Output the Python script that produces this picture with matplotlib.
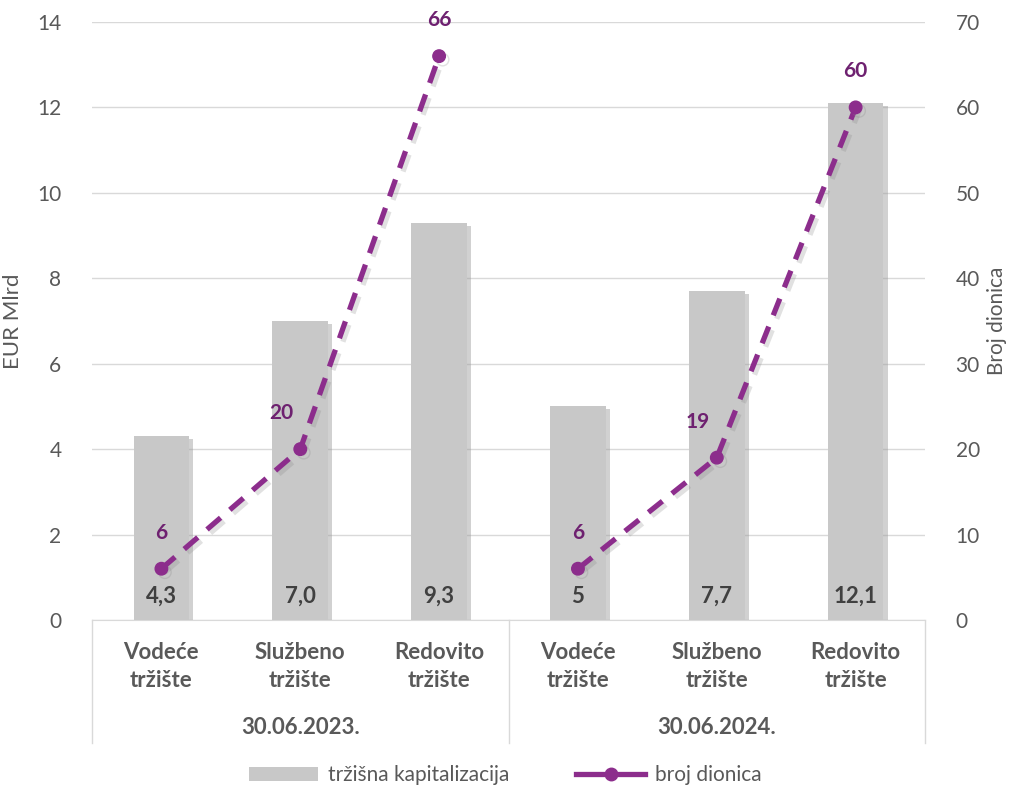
import numpy as np
import matplotlib.pyplot as plt
import matplotlib.patheffects as pe
from matplotlib.lines import Line2D
from matplotlib.patches import Patch

# Dados
kategorije = ["Vodeće\ntržište", "Službeno\ntržište", "Redovito\ntržište",
              "Vodeće\ntržište", "Službeno\ntržište", "Redovito\ntržište"]
grupe = ["30.06.2023.", "30.06.2024."]
kapitalizacija = [4.3, 7.0, 9.3, 5.0, 7.7, 12.1]
kap_oznake = ["4,3", "7,0", "9,3", "5", "7,7", "12,1"]
broj_dionica = [6, 20, 66, 6, 19, 60]

plt.rcParams['font.family'] = ['Lato', 'DejaVu Sans']

siva = '#c8c8c8'
ljubicasta = '#8c2d8c'
tamna_ljub = '#6e2170'
tekst = '#595959'

fig = plt.figure(figsize=(10.11, 7.9), dpi=100)
ax = fig.add_axes([0.091, 0.2152, 0.824, 0.757])
ax2 = ax.twinx()

x = np.arange(len(kategorije))

# Stupci sa sjenom
ax.bar(x, kapitalizacija, width=0.4, color=siva, zorder=2,
       path_effects=[pe.SimplePatchShadow(offset=(3, -2), shadow_rgbFace='#999999', alpha=0.45), pe.Normal()])
for xi, lab in zip(x, kap_oznake):
    ax.text(xi, 0.55, lab, ha='center', va='center', fontsize=16, fontweight='bold', color='#404040', zorder=3)

ax.set_ylim(0, 14)
ax.set_xlim(-0.5, len(kategorije) - 0.5)
ax.set_yticks(np.arange(0, 15, 2))
ax.grid(axis='y', color='#d9d9d9', linewidth=1)
ax.set_axisbelow(True)
ax.set_xticks([])
ax.set_ylabel("EUR Mlrd", fontsize=16, color=tekst, labelpad=10)
ax.tick_params(axis='y', length=0, labelsize=15, labelcolor=tekst, pad=22)

# Linija broja dionica, posebno za svaki datum
for g in range(len(grupe)):
    xs = x[3 * g:3 * g + 3]
    ys = broj_dionica[3 * g:3 * g + 3]
    ax2.plot(xs, ys, color=ljubicasta, linewidth=3.8, linestyle=(0, (3.4, 2.3)),
             marker='o', markersize=9, zorder=4,
             path_effects=[pe.SimpleLineShadow(offset=(2.5, -2.5), shadow_color='#888888', alpha=0.25),
                           pe.Normal()])

pomak_x = [0, -14, 0, 0, -14, 0]
for xi, v, dx in zip(x, broj_dionica, pomak_x):
    ax2.annotate(str(v), (xi, v), xytext=(dx, 26), textcoords='offset points',
                 ha='center', va='center', fontsize=15, fontweight='bold', color=tamna_ljub)
ax2.set_ylim(0, 70)
ax2.set_yticks(np.arange(0, 71, 10))
ax2.set_ylabel("Broj dionica", fontsize=15, color=tekst, labelpad=5)
ax2.tick_params(axis='y', length=0, labelsize=15, labelcolor=tekst, pad=22)

for a in (ax, ax2):
    for s in a.spines.values():
        s.set_visible(False)
ax.spines['bottom'].set_visible(True)
ax.spines['bottom'].set_color('#d9d9d9')

# Oznake kategorija i grupa (dvije razine)
trans = ax.get_xaxis_transform()
for xi, lab in zip(x, kategorije):
    ax.text(xi, -0.078, lab, transform=trans, ha='center', va='center', fontsize=16,
            fontweight='bold', color=tekst, linespacing=1.45)
for i, g in enumerate(grupe):
    ax.text(1 + 3 * i, -0.18, g, transform=trans, ha='center', va='center', fontsize=16,
            fontweight='bold', color=tekst)
for xv in [-0.5, 2.5, 5.5]:
    ax.plot([xv, xv], [0, -0.205], transform=trans, color='#d9d9d9', linewidth=1, clip_on=False)

# Legenda
ruke = [Patch(facecolor=siva, edgecolor='none'),
        Line2D([0], [0], color=ljubicasta, linewidth=3.8, marker='o', markersize=9)]
fig.legend(ruke, ["tržišna kapitalizacija", "broj dionica"], loc='lower center',
           bbox_to_anchor=(0.5, -0.018), ncol=2, frameon=False, fontsize=15,
           labelcolor=tekst, handlelength=3.3, columnspacing=3.2, handleheight=0.7, handletextpad=0.5)

fig.savefig('out.png', dpi=100)
